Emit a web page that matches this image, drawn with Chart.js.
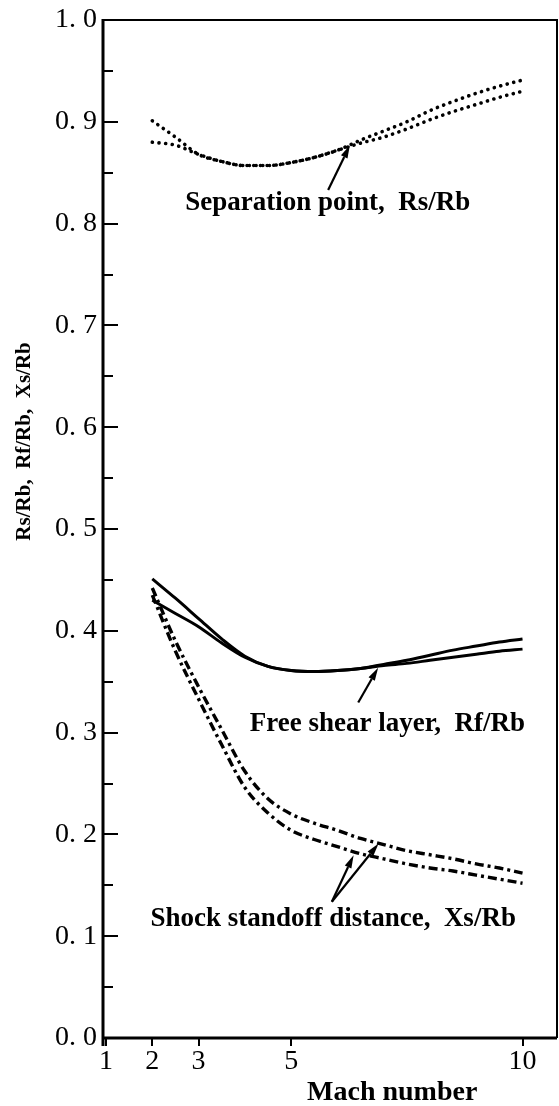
<!DOCTYPE html>
<html>
<head>
<meta charset="utf-8">
<script src="https://cdn.jsdelivr.net/npm/chart.js@4/dist/chart.umd.min.js"></script>
<style>
  html, body { margin: 0; padding: 0; background: #fff; }
  canvas { display: block; }
</style>
</head>
<body>
<canvas id="c" width="559" height="1106"></canvas>
<script>
// ---- data ----
const machX = [2, 2.5, 3, 3.5, 4, 4.5, 5, 5.5, 6, 6.5, 7, 7.5, 8, 8.5, 9, 9.5, 10];

const sepUpper = [0.901, 0.885, 0.868, 0.861, 0.857, 0.857, 0.860, 0.865, 0.872, 0.882, 0.891, 0.900, 0.911, 0.920, 0.928, 0.935, 0.941];
const sepLower = [0.880, 0.877, 0.868, 0.861, 0.857, 0.857, 0.860, 0.865, 0.872, 0.879, 0.885, 0.893, 0.902, 0.910, 0.917, 0.924, 0.930];

const shearUpper = [0.451, 0.432, 0.412, 0.392, 0.375, 0.365, 0.361, 0.360, 0.361, 0.363, 0.367, 0.371, 0.376, 0.381, 0.385, 0.389, 0.392];
const shearLower = [0.430, 0.417, 0.404, 0.388, 0.374, 0.365, 0.361, 0.360, 0.361, 0.363, 0.366, 0.368, 0.371, 0.374, 0.377, 0.380, 0.382];

const shockUpper = [0.442, 0.390, 0.345, 0.303, 0.262, 0.235, 0.220, 0.211, 0.204, 0.196, 0.190, 0.184, 0.180, 0.176, 0.171, 0.167, 0.162];
const shockLower = [0.435, 0.380, 0.333, 0.288, 0.246, 0.221, 0.204, 0.195, 0.188, 0.181, 0.176, 0.171, 0.167, 0.164, 0.160, 0.156, 0.152];

const xTickValues = [1, 2, 3, 5, 10];
const xTickLabels = ['1', '2', '3', '5', '10'];
const yTickValues = [0, 0.1, 0.2, 0.3, 0.4, 0.5, 0.6, 0.7, 0.8, 0.9, 1.0];
const yTickLabels = ['0. 0', '0. 1', '0. 2', '0. 3', '0. 4', '0. 5', '0. 6', '0. 7', '0. 8', '0. 9', '1. 0'];
const yMinorValues = [0.05, 0.15, 0.25, 0.35, 0.45, 0.55, 0.65, 0.75, 0.85, 0.95];

const xTitle = 'Mach number';
const yTitle = 'Rs/Rb,  Rf/Rb,  Xs/Rb';

// annotation labels and arrows (in data units)
const labelSep = { text: 'Separation point,  Rs/Rb', x: 5.79, y: 0.8135 };
const labelShear = { text: 'Free shear layer,  Rf/Rb', x: 7.08, y: 0.3018 };
const labelShock = { text: 'Shock standoff distance,  Xs/Rb', x: 5.91, y: 0.1103 };
const arrows = [
  { from: [5.80, 0.833], to: [6.27, 0.877] },
  { from: [6.45, 0.3295], to: [6.88, 0.3637] },
  { from: [5.88, 0.1338], to: [6.35, 0.1795] },
  { from: [5.88, 0.1338], to: [6.89, 0.1910] }
];

const toPts = ys => machX.map((x, i) => ({ x: x, y: ys[i] }));

const SERIF = '"Liberation Serif", "DejaVu Serif", serif';

function drawArrow(ctx, x0, y0, x1, y1) {
  const ang = Math.atan2(y1 - y0, x1 - x0);
  const L = 13, W = 3.6;
  const bx = x1 - L * Math.cos(ang), by = y1 - L * Math.sin(ang);
  ctx.beginPath();
  ctx.moveTo(x0, y0);
  ctx.lineTo(bx, by);
  ctx.stroke();
  ctx.beginPath();
  ctx.moveTo(x1, y1);
  ctx.lineTo(bx + W * Math.sin(ang), by - W * Math.cos(ang));
  ctx.lineTo(bx - W * Math.sin(ang), by + W * Math.cos(ang));
  ctx.closePath();
  ctx.fill();
}

const framePlugin = {
  id: 'frame',
  afterDraw(chart) {
    const { ctx, chartArea: a, scales } = chart;
    const xs = scales.x, ys = scales.y;
    ctx.save();
    ctx.strokeStyle = '#000';
    ctx.fillStyle = '#000';
    // box
    ctx.lineWidth = 2;
    ctx.beginPath();
    ctx.moveTo(a.left, a.top);
    ctx.lineTo(a.right, a.top);
    ctx.lineTo(a.right, a.bottom);
    ctx.stroke();
    ctx.lineWidth = 3;
    ctx.beginPath();
    ctx.moveTo(a.left, a.top - 1);
    ctx.lineTo(a.left, a.bottom + 8);
    ctx.moveTo(a.left - 1, a.bottom);
    ctx.lineTo(a.right, a.bottom);
    ctx.stroke();
    // y ticks (inward)
    ctx.lineWidth = 2;
    ctx.beginPath();
    yTickValues.forEach(v => {
      const p = Math.round(ys.getPixelForValue(v));
      ctx.moveTo(a.left, p); ctx.lineTo(a.left + 15, p);
    });
    yMinorValues.forEach(v => {
      const p = Math.round(ys.getPixelForValue(v));
      ctx.moveTo(a.left, p); ctx.lineTo(a.left + 10, p);
    });
    ctx.stroke();
    // x ticks (outward)
    ctx.beginPath();
    xTickValues.forEach(v => {
      const p = Math.round(xs.getPixelForValue(v));
      ctx.moveTo(p, a.bottom); ctx.lineTo(p, a.bottom + 8);
    });
    ctx.stroke();
    // annotation labels
    ctx.font = 'bold 27px ' + SERIF;
    ctx.textAlign = 'center';
    ctx.textBaseline = 'alphabetic';
    [labelSep, labelShear, labelShock].forEach(l => {
      ctx.fillText(l.text, xs.getPixelForValue(l.x), ys.getPixelForValue(l.y));
    });
    // arrows
    ctx.lineWidth = 2.2;
    arrows.forEach(ar => {
      drawArrow(ctx,
        xs.getPixelForValue(ar.from[0]), ys.getPixelForValue(ar.from[1]),
        xs.getPixelForValue(ar.to[0]), ys.getPixelForValue(ar.to[1]));
    });
    // axis titles
    ctx.font = 'bold 28px ' + SERIF;
    ctx.textAlign = 'center';
    ctx.fillText(xTitle, a.left + 0.637 * (a.right - a.left), chart.height - 6);
    ctx.save();
    ctx.translate(30, a.top + 0.414 * (a.bottom - a.top));
    ctx.rotate(-Math.PI / 2);
    ctx.font = 'bold 21px ' + SERIF;
    ctx.textBaseline = 'alphabetic';
    ctx.fillText(yTitle, 0, 0);
    ctx.restore();
    ctx.restore();
  }
};

new Chart(document.getElementById('c'), {
  type: 'line',
  data: {
    datasets: [
      { label: 'Separation point A', data: toPts(sepUpper), borderColor: '#000', borderWidth: 3.6,
        borderDash: [0.1, 6.6], borderCapStyle: 'round', pointRadius: 0, cubicInterpolationMode: 'monotone', fill: false },
      { label: 'Separation point B', data: toPts(sepLower), borderColor: '#000', borderWidth: 3.6,
        borderDash: [0.1, 6.6], borderCapStyle: 'round', pointRadius: 0, cubicInterpolationMode: 'monotone', fill: false },
      { label: 'Free shear layer A', data: toPts(shearUpper), borderColor: '#000', borderWidth: 3,
        pointRadius: 0, cubicInterpolationMode: 'monotone', fill: false },
      { label: 'Free shear layer B', data: toPts(shearLower), borderColor: '#000', borderWidth: 3,
        pointRadius: 0, cubicInterpolationMode: 'monotone', fill: false },
      { label: 'Shock standoff A', data: toPts(shockUpper), borderColor: '#000', borderWidth: 3.4,
        borderDash: [9, 4, 3, 4], pointRadius: 0, cubicInterpolationMode: 'monotone', fill: false },
      { label: 'Shock standoff B', data: toPts(shockLower), borderColor: '#000', borderWidth: 3.4,
        borderDash: [9, 4, 3, 4], pointRadius: 0, cubicInterpolationMode: 'monotone', fill: false }
    ]
  },
  options: {
    responsive: false,
    animation: false,
    devicePixelRatio: 1,
    layout: { padding: { top: 16, right: 2, left: 0, bottom: 0 } },
    plugins: { legend: { display: false }, tooltip: { enabled: false } },
    scales: {
      x: {
        type: 'linear',
        min: 0.935,
        max: 10.745,
        afterFit(s) { s.height = 68; },
        afterBuildTicks(s) { s.ticks = xTickValues.map(v => ({ value: v })); },
        grid: { display: false, drawTicks: false },
        border: { display: false },
        ticks: {
          autoSkip: false,
          maxRotation: 0,
          padding: 10,
          color: '#000',
          font: { family: SERIF, size: 28, lineHeight: 1.0 },
          callback: (v, i) => xTickLabels[i]
        }
      },
      y: {
        type: 'linear',
        min: 0,
        max: 1,
        afterFit(s) { s.width = 103; },
        afterBuildTicks(s) { s.ticks = yTickValues.map(v => ({ value: v })); },
        grid: { display: false, drawTicks: false },
        border: { display: false },
        ticks: {
          autoSkip: false,
          padding: 6,
          color: '#000',
          font: { family: SERIF, size: 28, lineHeight: 1.0 },
          callback: (v, i) => yTickLabels[i]
        }
      }
    }
  },
  plugins: [framePlugin]
});
</script>
</body>
</html>
